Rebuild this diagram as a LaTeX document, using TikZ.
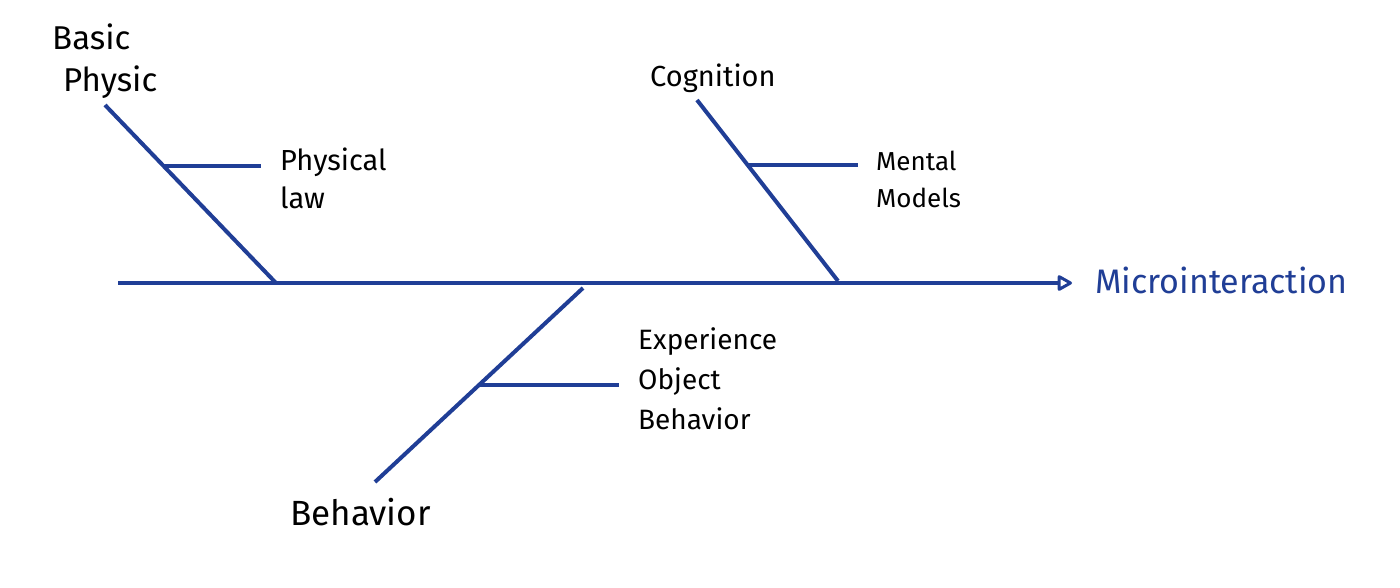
\documentclass[tikz,border=0pt]{standalone}
\usepackage{fontspec}
\setmainfont{Fira Sans}
\usetikzlibrary{arrows.meta,calc}
\definecolor{pen}{RGB}{32,62,150}
\tikzset{bone/.style={draw=pen,line width=4pt},
  lbl/.style={align=left,inner sep=0pt}}
\begin{document}
\begin{tikzpicture}[font=\fontsize{29}{38}\selectfont,x=1pt,y=-1pt]
\useasboundingbox (0,0) rectangle (1400,587);
% spine
\coordinate (tail) at (118,283);
\node[lbl,anchor=west,text=pen,font=\fontsize{34}{36}\selectfont] at (1095,280) (micro) {Microinteraction};
\coordinate (head) at (1072,283);
\draw[bone,-{Triangle[open,round,length=16pt,width=17pt,line width=3pt]}] (tail)--(head);
% basic physic
\node[lbl,anchor=north west,font=\fontsize{33}{42}\selectfont] at (52,24) (basic) {Basic\\\hspace*{11pt}Physic};
\coordinate (b0) at (105,105);\coordinate (b1) at (276,283);
\draw[bone] (b0)--(b1);
\coordinate (bs) at ($(b0)!0.34!(b1)$);
\node[lbl,anchor=west] at (280,178) (law) {Physical\\law};
\draw[bone] (bs)--++(98,0) coordinate (bse);
% cognition
\node[lbl,anchor=west] at (650,78) (cog) {Cognition};
\coordinate (c0) at (697,100);\coordinate (c1) at (838,281);
\draw[bone] (c0)--(c1);
\coordinate (cs) at ($(c0)!0.36!(c1)$);
\node[lbl,anchor=west,font=\fontsize{26}{37}\selectfont] at (876,179) (ment) {Mental\\Models};
\draw[bone] (cs)--++(110,0) coordinate (cse);
% behavior
\node[lbl,anchor=west,font=\fontsize{35}{36}\selectfont] at (290,512) (beh) {Behavior};
\coordinate (h0) at (583,288);\coordinate (h1) at (375,482);
\draw[bone] (h0)--(h1);
\coordinate (hs) at ($(h0)!0.5!(h1)$);
\node[lbl,anchor=west,font=\fontsize{28}{40}\selectfont] at (638,379) (exp) {Experience\\Object\\Behavior};
\draw[bone] (hs)--++(140,0) coordinate (hse);
\end{tikzpicture}
\end{document}
